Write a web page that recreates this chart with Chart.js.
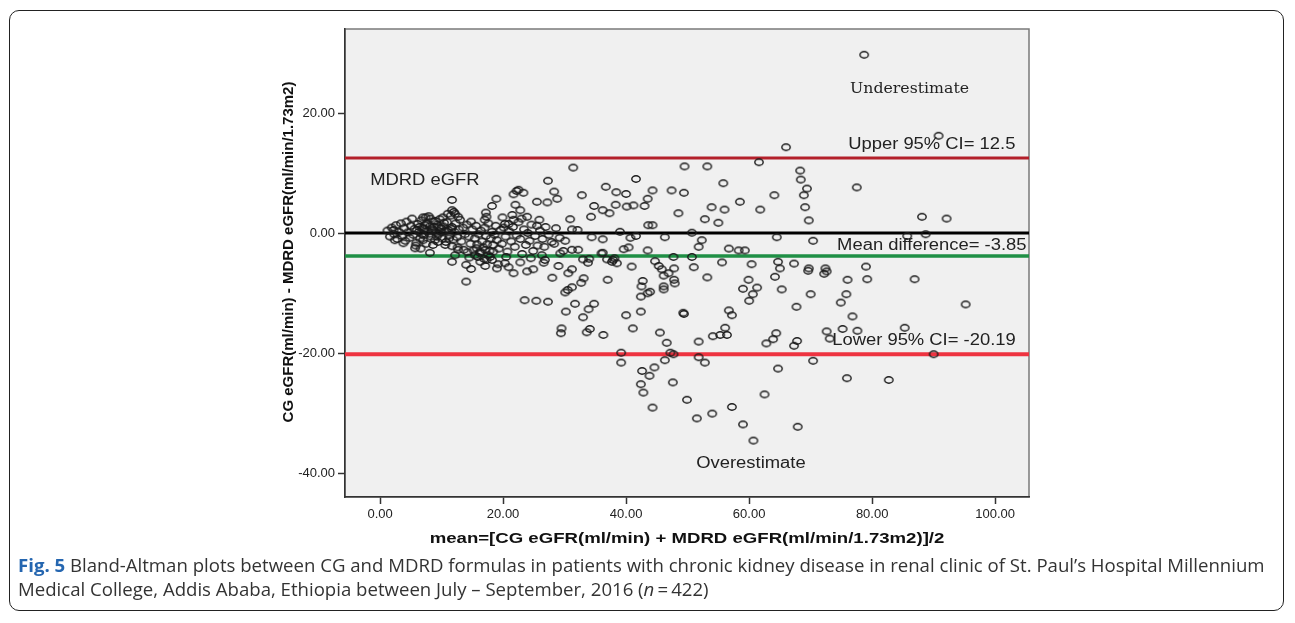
<!DOCTYPE html>
<html lang="en">
<head>
<meta charset="UTF-8">
<title>Bland-Altman CG vs MDRD</title>
<script src="https://cdn.jsdelivr.net/npm/chart.js"></script>
<style>
  body {
    margin: 0;
    width: 1295px;
    height: 623px;
    overflow: hidden;
    position: relative;
    background: #fff;
  }
  .frame {
    position: absolute;
    left: 9px;
    top: 10px;
    width: 1273px;
    height: 599px;
    border: 1.5px solid #222;
    border-radius: 10px;
  }
  #chart { position: absolute; left: 0; top: 0; }
  .caption {
    position: absolute;
    left: 18px;
    top: 553px;
    width: 1268px;
    font-family: "Open Sans", "Noto Sans", sans-serif;
    font-size: 18.6px;
    line-height: 24px;
    color: #333;
    white-space: nowrap;
  }
  .caption b { color: #2566b0; }
</style>
</head>
<body>
<div class="frame"></div>
<canvas id="chart" width="1295" height="555"></canvas>
<div class="caption"><b>Fig. 5</b> Bland-Altman plots between CG and MDRD formulas in patients with chronic kidney disease in renal clinic of St. Paul’s Hospital Millennium<br>Medical College, Addis Ababa, Ethiopia between July – September, 2016 (<i>n</i>&thinsp;=&thinsp;422)</div>

<script>
// [mean eGFR, difference]
// dense part left of 30 (estimated, too crowded to read one by one)
const clusterPairs = [
  [1.2,0.4],[1.6,-0.6],[1.9,0.9],[2.3,-0.2],[2.6,1.3],[2.8,-1.0],[3.1,0.2],[3.4,1.6],[3.6,-0.5],[3.9,0.8],
  [4.1,-1.3],[4.3,1.9],[4.5,0.1],[4.8,-0.8],[5.0,1.2],[5.2,2.4],[5.4,-0.3],[5.6,0.7],[5.9,-1.6],[6.1,1.5],
  [6.3,0.2],[6.5,-0.9],[6.7,2.1],[6.9,0.9],[7.1,-0.4],[7.3,1.3],[7.5,-1.8],[7.7,0.3],[7.9,2.8],[8.1,1.1],
  [8.3,-0.6],[8.5,0.6],[8.7,1.9],[8.9,-1.2],[9.1,0.1],[9.3,1.4],[9.5,-0.2],[9.7,2.3],[9.9,0.8],[10.1,-0.9],
  [10.3,1.1],[10.5,0.3],[10.7,-1.5],[10.9,1.8],[11.1,0.5],[11.3,-0.4],[11.5,2.9],[11.7,1.0],[11.9,-1.1],[12.1,0.2],
  [12.3,1.6],[12.5,-0.7],[12.8,0.6],[13.0,2.2],[13.2,-1.4],[13.5,0.9],[13.8,-0.2],[14.1,1.4],
  [6.0,0.5],[6.4,1.0],[6.8,-0.2],[7.2,0.7],[7.6,1.6],[8.0,-0.1],[8.4,0.4],[8.8,1.0],[9.2,-0.6],[9.6,0.9],
  [10.0,0.2],[10.4,1.7],[10.8,0.4],[11.2,-0.9],[11.6,0.7],[9.0,2.0],[8.2,2.4],[7.4,2.6],[10.2,2.6],[9.4,-1.5],
  [7.0,-1.2],[8.6,-2.0],[5.8,-2.1],[6.6,-2.6],[10.6,-2.0],[11.0,3.2],[12.0,3.5],[12.6,-2.4],
  [14.4,-0.6],[14.7,-1.8],[15.0,0.6],[15.2,-2.9],[15.4,-0.9],[15.6,1.2],[15.8,-1.9],[16.0,-0.2],[16.2,-3.3],[16.4,0.4],
  [16.6,-1.4],[16.8,-2.4],[17.0,0.9],[17.2,-0.5],[17.4,-1.9],[17.6,1.6],[17.8,-3.0],[18.0,-0.9],[18.2,0.2],[18.4,-2.0],
  [18.6,-0.3],[18.8,1.2],[19.0,-1.2],[19.3,-2.6],[19.6,0.5],[14.8,1.9],[15.9,-4.0],[16.9,-4.3],[17.9,-4.0],[14.2,-3.2],
  [13.6,-2.8],[14.5,-4.1],
  [19.8,-1.8],[20.1,0.9],[20.4,-0.6],[20.7,-3.1],[21.0,0.3],[21.3,-1.4],[21.6,1.0],[21.9,-2.3],[22.2,-0.4],[22.5,1.8],
  [22.8,-1.0],[23.1,-3.5],[23.4,0.6],[23.7,-2.0],[24.0,0.0],[24.3,-1.3],[24.6,1.4],[24.9,-3.0],[25.2,-0.5],[25.6,-2.1],
  [26.0,0.4],[26.4,-1.0],[26.9,1.0],[27.4,-0.3],[27.9,-1.5],[28.6,0.8],[29.2,-0.8],[21.5,3.0],[19.9,2.6],[23.0,2.4],
  [24.5,-4.2],[20.5,-4.0]
];

const innerPairs = [
  [11.7,-4.8],[14.0,-5.3],[14.8,-6.0],[16.3,-4.8],[17.1,-5.5],[19.0,-5.9],[19.2,-5.2],[20.9,-5.7],[21.7,-6.7],[22.8,-4.9],
  [23.9,-6.4],[24.9,-6.05],[26.6,-4.95],[14.0,-8.1],[29.0,-5.5],[28.0,-7.45],[23.5,-11.2],[25.4,-11.3],[27.3,-11.45],[29.5,-15.9],
  [29.4,-16.7],
  [27.3,8.7],[28.3,6.9],[28.8,5.7],[25.5,5.2],[27.2,5.1],[22.2,7.0],[22.5,7.2],[23.3,6.7],[21.7,6.45],[18.9,5.7],
  [18.2,4.5],[11.7,5.5],[22.0,4.7],[22.8,3.8],[23.9,2.7],[25.9,2.2],[25.5,1.2],[20.3,1.5],[20.9,1.5],[21.7,2.2],
  [17.2,3.4],[17.3,2.7],[17.0,2.2],[11.7,3.8],[12.2,3.2],[12.7,2.7],[7.0,2.6],[2.2,0.5],
  [26.7,-2.3],[28.3,-1.8],[29.3,-3.4],[29.8,-3.0],[26.3,-3.7],[26.8,-4.5],[17.3,-4.5],[18.2,-4.5],[20.3,-5.05],[8.1,-3.3],
  [5.7,-2.55],[3.8,-1.7],[2.4,-1.2],[11.7,-2.2],[12.7,-2.8],[12.2,-3.7],[15.7,-2.55],[16.3,-3.1],[15.4,-3.7],[17.1,-2.8],
  [17.6,-3.7],[18.4,-3.1]
];

const middlePairs = [
  [30.6,-6.7],[31.2,-6.05],[33.1,-7.55],[32.7,-8.3],[31.2,-9.05],[30.5,-9.5],[30.1,-9.9],[33.8,-4.95],[37.7,-4.8],[30.2,-13.1],
  [31.7,-11.8],[33.0,-14.05],[33.9,-12.7],[34.8,-11.8],[34.1,-16.0],[33.6,-16.55],[46.3,-21.2],[39.2,-19.95],[39.2,-21.6],[42.6,-23.0],
  [43.8,-23.8],[44.6,-22.4],[42.4,-25.2],[42.8,-26.6],[44.3,-29.1],
  [31.4,10.9],[32.8,6.3],[34.8,4.5],[34.3,2.7],[30.9,2.3],[31.2,0.6],[32.1,0.5],[30.1,-1.3],[31.2,-2.8],[32.2,-2.8],
  [33.0,-4.4],[34.0,-4.3],[36.9,-4.4],[38.1,-4.2],[36.0,-3.4],[34.4,-0.7],
  [41.6,9.0],[36.7,7.7],[38.4,6.8],[40.0,6.5],[44.3,7.1],[43.5,5.7],[38.3,4.7],[40.1,4.4],[41.2,4.6],[43.0,4.5],
  [36.2,3.8],[37.3,3.3],[43.6,1.3],[44.3,1.3],[39.0,0.2],[36.2,-1.05],[40.7,-0.8],[41.6,-0.5],[46.3,-0.7],[39.6,-2.7],
  [40.4,-2.4],[36.2,-3.3],[37.9,-4.5],[38.5,-5.05],[43.5,-2.9],[40.9,-5.6],[44.7,-4.7],[45.3,-5.5],[45.8,-6.05],[46.1,-7.1],
  [46.9,-6.7],[37.0,-7.8],[42.7,-8.0],[42.5,-8.9],[42.4,-10.6],[43.9,-9.8],[43.5,-10.05],[46.1,-8.9],[46.1,-9.4],[40.0,-13.7],
  [42.4,-13.1],[41.1,-15.9],[36.3,-17.0],[45.5,-16.6],[46.6,-18.3]
];

const outerPairs = [
  [47.8,-5.9],[51.0,-5.7],[55.6,-4.9],[60.4,-5.2],[64.7,-4.8],[67.3,-5.1],[79.0,-5.6],[47.8,-7.8],[47.9,-8.4],[53.2,-7.4],
  [59.9,-7.8],[59.0,-9.3],[61.3,-9.1],[60.6,-10.2],[60.0,-11.3],[64.2,-7.3],[65.0,-5.9],[65.3,-9.4],[69.6,-6.3],[72.2,-6.8],
  [72.6,-6.4],[76.0,-7.8],[79.2,-7.7],[86.9,-7.7],[70.0,-10.2],[75.8,-10.2],[74.9,-11.6],[67.7,-12.3],[76.8,-13.9],[95.2,-11.9],
  [49.3,-13.3],[49.4,-13.5],[56.7,-12.9],[57.2,-13.7],[56.1,-15.8],[54.1,-17.2],[55.3,-17.0],[56.4,-17.0],[51.8,-18.1],[62.8,-18.4],
  [63.9,-17.7],[64.4,-16.7],[67.3,-18.8],[67.8,-18.0],[72.6,-16.4],[73.1,-17.6],[75.2,-16.0],[77.6,-16.3],[85.3,-15.8],[90.0,-20.2],
  [47.7,-20.2],[51.8,-20.7],[52.8,-21.6],[70.4,-21.3],[64.7,-22.6],[47.6,-24.9],[75.9,-24.2],[82.7,-24.5],[62.5,-26.9],[49.9,-27.8],
  [51.5,-30.9],[54.0,-30.1],[57.2,-29.0],[59.0,-31.9],[67.9,-32.3],[60.7,-34.6],[47.2,-19.95],
  [78.7,29.7],[90.8,16.2],[66.0,14.3],[49.5,11.1],[53.2,11.1],[61.6,11.8],[68.3,10.4],[68.4,8.9],[69.4,7.4],[68.9,6.3],
  [69.1,4.3],[69.7,2.1],[55.8,8.3],[47.4,7.1],[49.4,6.7],[64.1,6.3],[58.5,5.2],[53.9,4.3],[56.0,3.9],[61.8,3.9],
  [48.5,3.3],[52.8,2.3],[55.0,1.7],[77.5,7.6],[88.1,2.7],[92.1,2.4],[50.7,0.05],[52.3,-1.2],[51.8,-2.3],[64.5,-0.7],
  [70.4,-1.3],[85.7,-0.5],[88.7,-0.2],[56.7,-2.6],[58.3,-2.9],[59.3,-2.9],[47.7,-4.0],[50.7,-4.0],[69.7,-5.9],[72.4,-5.9]
];

// reference lines
const upperLimit = 12.5;
const meanDiff = -3.85;
const lowerLimit = -20.19;
const zeroLine = 0;

const xTicks = [0, 20, 40, 60, 80, 100];
const yTicks = [-40, -20, 0, 20];

const xTitle = 'mean=[CG eGFR(ml/min) + MDRD eGFR(ml/min/1.73m2)]/2';
const yTitle = 'CG eGFR(ml/min) - MDRD eGFR(ml/min/1.73m2)';

// text notes placed in data units
const notes = [
  { text: 'Underestimate', x: 76.4, y: 24.0, serif: true },
  { text: 'Upper 95% CI= 12.5', x: 76.1, y: 14.8 },
  { text: 'MDRD eGFR', x: -1.6, y: 8.8 },
  { text: 'Mean difference= -3.85', x: 74.3, y: -2.1 },
  { text: 'Lower 95% CI= -20.19', x: 73.5, y: -18.0 },
  { text: 'Overestimate', x: 51.4, y: -38.5 }
];

const X_MIN = -5.7, X_MAX = 105.5;
const Y_MIN = -44, Y_MAX = 34;
const SANS = 'Arial, "Liberation Sans", sans-serif';

// SPSS circles come out a bit wider than tall in the figure
function ringMarker() {
  const c = document.createElement('canvas');
  c.width = 12; c.height = 10;
  const g = c.getContext('2d');
  g.strokeStyle = '#1a1a1a';
  g.lineWidth = 1.4;
  g.beginPath();
  g.ellipse(6, 5, 4.2, 3.2, 0, 0, Math.PI * 2);
  g.stroke();
  return c;
}

function hLine(v, color, width) {
  return {
    data: [{ x: X_MIN, y: v }, { x: X_MAX, y: v }],
    showLine: true,
    borderColor: color,
    borderWidth: width,
    pointRadius: 0,
    order: 2
  };
}

const plotBackground = {
  id: 'plotBackground',
  beforeDraw(chart) {
    const { ctx, chartArea: a } = chart;
    ctx.save();
    ctx.fillStyle = '#f0f0f0';
    ctx.fillRect(a.left, a.top, a.right - a.left, a.bottom - a.top);
    ctx.strokeStyle = '#7a7a7a';
    ctx.lineWidth = 1.5;
    ctx.strokeRect(a.left, a.top, a.right - a.left, a.bottom - a.top);
    ctx.restore();
  }
};

const textNotes = {
  id: 'textNotes',
  afterDatasetsDraw(chart) {
    const { ctx, scales: { x, y } } = chart;
    ctx.save();
    ctx.fillStyle = '#222';
    ctx.textBaseline = 'middle';
    ctx.textAlign = 'left';
    notes.forEach(n => {
      ctx.save();
      ctx.translate(x.getPixelForValue(n.x), y.getPixelForValue(n.y));
      ctx.scale(n.serif ? 1.05 : 1.15, 1);
      ctx.font = n.serif ? '15px "DejaVu Serif", serif' : '16px ' + SANS;
      ctx.fillText(n.text, 0, 0);
      ctx.restore();
    });
    ctx.restore();
  }
};

const axisTitles = {
  id: 'axisTitles',
  afterDraw(chart) {
    const { ctx, chartArea: a } = chart;
    ctx.save();
    ctx.fillStyle = '#111';
    ctx.textAlign = 'center';
    ctx.textBaseline = 'middle';
    ctx.font = 'bold 15.5px ' + SANS;
    ctx.save();
    ctx.translate((a.left + a.right) / 2, a.bottom + 42);
    ctx.scale(1.2, 1);
    ctx.fillText(xTitle, 0, 0);
    ctx.restore();
    ctx.font = 'bold 15px ' + SANS;
    ctx.translate(a.left - 56, (a.top + a.bottom) / 2 - 11);
    ctx.rotate(-Math.PI / 2);
    ctx.fillText(yTitle, 0, 0);
    ctx.restore();
  }
};

const toPairs = arr => arr.map(p => ({ x: p[0], y: p[1] }));
const allPairs = [].concat(clusterPairs, innerPairs, middlePairs, outerPairs);

Chart.defaults.font.family = SANS;

new Chart(document.getElementById('chart'), {
  type: 'scatter',
  data: {
    datasets: [
      {
        data: toPairs(allPairs),
        pointStyle: ringMarker(),
        pointRadius: 4,
        order: 1
      },
      hLine(upperLimit, '#b3202a', 3),
      hLine(zeroLine, '#000000', 3),
      hLine(meanDiff, '#1f8f45', 3.5),
      hLine(lowerLimit, '#ee3340', 4)
    ]
  },
  options: {
    responsive: false,
    animation: false,
    events: [],
    layout: { padding: { left: 280, right: 266, top: 29, bottom: 0 } },
    plugins: { legend: { display: false }, tooltip: { enabled: false } },
    scales: {
      x: {
        type: 'linear',
        min: X_MIN,
        max: X_MAX,
        afterFit: s => { s.height = 58; },
        afterBuildTicks: s => { s.ticks = xTicks.map(v => ({ value: v })); },
        grid: { drawOnChartArea: false, tickLength: 7, tickColor: '#333', tickWidth: 1.5 },
        border: { color: '#333', width: 1.5 },
        ticks: { color: '#222', font: { size: 13 }, padding: 3, maxRotation: 0,
                 callback: v => v.toFixed(2) }
      },
      y: {
        type: 'linear',
        min: Y_MIN,
        max: Y_MAX,
        afterFit: s => { s.width = 65; },
        afterBuildTicks: s => { s.ticks = yTicks.map(v => ({ value: v })); },
        grid: { drawOnChartArea: false, tickLength: 7, tickColor: '#333', tickWidth: 1.5 },
        border: { color: '#333', width: 1.5 },
        ticks: { color: '#222', font: { size: 13 }, padding: 3,
                 callback: v => v.toFixed(2) }
      }
    }
  },
  plugins: [plotBackground, textNotes, axisTitles]
});
</script>
</body>
</html>
